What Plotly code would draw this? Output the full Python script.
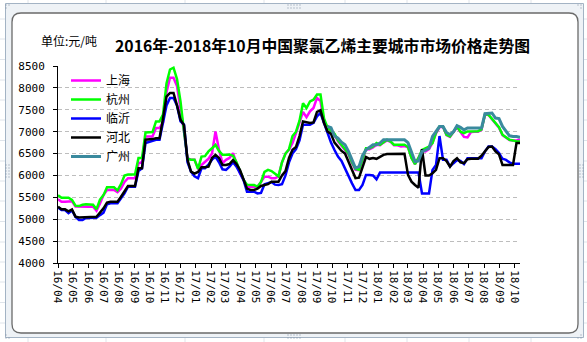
import pandas as pd
import plotly.graph_objects as go

# Weekly sampling dates, 2016-04-01 .. 2018-10-12
weeks = pd.date_range("2016-04-01", periods=133, freq="7D")

# Prices in yuan/ton
shanghai = [5454, 5400, 5400, 5400, 5410, 5290, 5285, 5285, 5285, 5285,
            5285, 5193, 5362, 5553, 5668, 5668, 5668, 5620, 5700, 5850,
            5936, 5936, 5936, 6280, 6300, 6890, 6890, 6890, 7083, 7083,
            7200, 7900, 8230, 8230, 8040, 7542, 7000, 6395, 6356, 6356,
            6165, 6240, 6300, 6380, 6500, 7005, 6585, 6280, 6356, 6400,
            6510, 6300, 6050, 5897, 5744, 5744, 5744, 5744, 5850, 5973,
            5973, 5936, 5936, 5980, 6300, 6500, 6585, 6740, 6968, 7198,
            7450, 7330, 7465, 7542, 7770, 7700, 7198, 7120, 7000, 6930,
            6780, 6680, 6580, 6480, 6280, 6130, 6120, 6380, 6600, 6600,
            6640, 6700, 6690, 6750, 6800, 6770, 6690, 6690, 6660, 6670,
            6640, 6400, 6260, 6400, 6560, 6550, 6600, 6740, 6960, 7100,
            7110, 6920, 6880, 6990, 7100, 6990, 6880, 6870, 6990, 7000,
            7000, 7040, 7390, 7380, 7290, 7200, 7090, 6920, 6870, 6810,
            6800, 6800, 6820]

hangzhou = [5550, 5490, 5490, 5490, 5440, 5310, 5300, 5330, 5340, 5340,
            5330, 5230, 5450, 5550, 5730, 5730, 5730, 5660, 5800, 6000,
            6020, 6020, 6020, 6400, 6400, 6980, 6980, 6990, 7235, 7235,
            7390, 8100, 8420, 8460, 8200, 7690, 7000, 6380, 6360, 6360,
            6150, 6430, 6440, 6550, 6620, 6700, 6560, 6470, 6470, 6480,
            6450, 6300, 6100, 5900, 5790, 5780, 5780, 5744, 5850, 6080,
            6126, 6100, 6050, 5980, 6300, 6500, 6600, 6900, 7000, 7250,
            7650, 7540, 7690, 7730, 7847, 7847, 7300, 7090, 7020, 6950,
            6800, 6700, 6600, 6500, 6300, 6150, 6130, 6400, 6620, 6620,
            6660, 6740, 6700, 6760, 6815, 6780, 6700, 6700, 6700, 6700,
            6650, 6400, 6260, 6400, 6585, 6630, 6660, 6740, 6980, 7120,
            7120, 6930, 6890, 7000, 7120, 7000, 6968, 7005, 7005, 7005,
            7010, 7050, 7400, 7390, 7300, 7210, 7100, 6930, 6880, 6815,
            6800, 6777, 6777]

linyi = [5270, 5209, 5209, 5140, 5200, 5050, 4980, 4980, 5030, 5033,
         5033, 5033, 5094, 5150, 5340, 5362, 5362, 5362, 5476, 5590,
         5744, 5744, 5744, 6100, 6165, 6740, 6760, 6780, 6815, 6815,
         7250, 7600, 7770, 7770, 7600, 7235, 7160, 6300, 6088, 5980,
         5936, 6165, 6165, 6250, 6360, 6432, 6300, 6140, 6126, 6200,
         6300, 6200, 6050, 5900, 5629, 5629, 5629, 5590, 5600, 5800,
         5820, 5850, 5790, 5782, 5800, 6000, 6300, 6500, 6600, 6800,
         7160, 7160, 7160, 7200, 7350, 7427, 7200, 6968, 6750, 6580,
         6430, 6330, 6150, 5973, 5820, 5668, 5668, 5782, 6012, 6012,
         6000, 5913, 6065, 6065, 6065, 6065, 6065, 6065, 6065, 6065,
         6065, 6065, 6065, 6065, 5590, 5590, 5590, 6126, 6240, 6900,
         6356, 6356, 6203, 6280, 6350, 6330, 6260, 6395, 6395, 6395,
         6395, 6395, 6550, 6662, 6662, 6600, 6510, 6380, 6356, 6300,
         6265, 6265, 6265]

hebei = [5285, 5225, 5225, 5180, 5225, 5060, 5041, 5041, 5041, 5055,
         5055, 5055, 5150, 5248, 5380, 5400, 5400, 5400, 5514, 5629,
         5760, 5760, 5760, 6165, 6165, 6815, 6815, 6830, 6850, 6850,
         7300, 7800, 7886, 7886, 7600, 7273, 7150, 6356, 6088, 6040,
         6080, 6188, 6188, 6200, 6400, 6470, 6400, 6240, 6240, 6260,
         6350, 6260, 6126, 5900, 5700, 5668, 5668, 5700, 5760, 5782,
         5800, 5858, 5858, 5858, 6000, 6100, 6400, 6585, 6650, 6900,
         7235, 7210, 7200, 7210, 7450, 7487, 7200, 7005, 6950, 6750,
         6660, 6560, 6500, 6300, 6100, 5940, 5950, 6200, 6420, 6380,
         6400, 6380, 6420, 6470, 6490, 6494, 6494, 6494, 6494, 6494,
         6012, 5858, 5782, 5720, 6600, 6000, 6000, 6050, 6126, 6395,
         6395, 6330, 6203, 6330, 6395, 6300, 6280, 6372, 6380, 6380,
         6380, 6450, 6547, 6650, 6660, 6550, 6480, 6240, 6240, 6240,
         6240, 6740, 6740]

# Guangzhou quotes begin in September 2017
guangzhou = [None] * 77 + [
    7120, 7090, 6900, 6850, 6760, 6700, 6550, 6350, 6170, 6200,
    6450, 6585, 6650, 6700, 6700, 6740, 6815, 6815, 6815, 6815,
    6815, 6815, 6815, 6750, 6550, 6317, 6330, 6547, 6580, 6620,
    6890, 7000, 7120, 7120, 6980, 6930, 7000, 7135, 7100, 7040,
    7083, 7083, 7083, 7083, 7083, 7410, 7427, 7427, 7312, 7300,
    7120, 7005, 6906, 6890, 6890, 6870]

series = [
    ("上海", shanghai, "#ff00ff", 2.5),
    ("杭州", hangzhou, "#00ff00", 2.5),
    ("临沂", linyi, "#0000ff", 2.5),
    ("河北", hebei, "#000000", 2.5),
    ("广州", guangzhou, "#3a8a9e", 3),
]

y_ticks = [4000, 4500, 5000, 5500, 6000, 6500, 7000, 7500, 8000, 8500]

W, H = 587, 342
L, R, T, B = 58, 67, 66, 79
PW, PH = W - L - R, H - T - B


def fx(p):
    return (p - L) / PW


def fy(p):
    return (H - B - p) / PH


fig = go.Figure()
for name, vals, color, width in series:
    fig.add_trace(go.Scatter(
        x=weeks, y=vals, name=name, mode="lines",
        line=dict(color=color, width=width),
        connectgaps=False,
    ))

shapes = []
# worksheet cell grid behind the chart
for gx in [28, 106, 185, 264, 345, 407, 469, 531]:
    shapes.append(dict(type="line", xref="paper", yref="paper", layer="below",
                       x0=fx(gx), x1=fx(gx), y0=fy(0), y1=fy(H),
                       line=dict(color="#dfe4ea", width=1)))
for gy in [19, 39, 59.5, 80, 100, 120, 140.5, 161, 181, 201, 221.5, 242, 262, 282, 302.5, 323]:
    shapes.append(dict(type="line", xref="paper", yref="paper", layer="below",
                       x0=fx(0), x1=fx(W), y0=fy(gy), y1=fy(gy),
                       line=dict(color="#dfe4ea", width=1)))

# selection frame around the chart object
shapes.append(dict(type="rect", xref="paper", yref="paper", layer="below",
                   x0=fx(5.5), x1=fx(583.5), y0=fy(3.5), y1=fy(337.5),
                   fillcolor="#eef2f6", line=dict(color="#a3b3c4", width=1)))


def rounded(x0, y0, x1, y1, r):
    pts = [
        f"M {fx(x0 + r)} {fy(y0)}",
        f"L {fx(x1 - r)} {fy(y0)}",
        f"Q {fx(x1)} {fy(y0)} {fx(x1)} {fy(y0 + r)}",
        f"L {fx(x1)} {fy(y1 - r)}",
        f"Q {fx(x1)} {fy(y1)} {fx(x1 - r)} {fy(y1)}",
        f"L {fx(x0 + r)} {fy(y1)}",
        f"Q {fx(x0)} {fy(y1)} {fx(x0)} {fy(y1 - r)}",
        f"L {fx(x0)} {fy(y0 + r)}",
        f"Q {fx(x0)} {fy(y0)} {fx(x0 + r)} {fy(y0)}",
        "Z",
    ]
    return " ".join(pts)


# chart area with rounded corners
shapes.append(dict(type="path", xref="paper", yref="paper", layer="below",
                   path=rounded(12, 13, 578, 333, 9),
                   fillcolor="#ffffff", line=dict(color="#6a6a6a", width=1.3)))

# sizing handles of the frame
handle_dots = []
for hx in [288, 291, 294, 297, 300]:
    handle_dots += [(hx, 5), (hx, 8), (hx, 335), (hx, 338)]
for hy in [165, 168, 171, 174, 177]:
    handle_dots += [(580, hy), (583, hy), (6, hy), (9, hy)]
for cx, cy in [(6, 5), (9, 5), (6, 8), (578, 5), (581, 5), (581, 8),
               (6, 335), (6, 338), (9, 338), (578, 338), (581, 338), (581, 335)]:
    handle_dots.append((cx, cy))
for hx, hy in handle_dots:
    shapes.append(dict(type="rect", xref="paper", yref="paper", layer="below",
                       x0=fx(hx - 0.5), x1=fx(hx + 0.5), y0=fy(hy - 0.5), y1=fy(hy + 0.5),
                       fillcolor="#7f8fa3", line=dict(width=0)))

annotations = [
    dict(text="<b>2016年-2018年10月中国聚氯乙烯主要城市市场价格走势图</b>",
         xref="paper", yref="paper", x=fx(322), y=fy(45),
         xanchor="center", yanchor="middle", showarrow=False,
         font=dict(family="Noto Sans CJK SC", size=15.8, color="#000000")),
    dict(text="单位:元/吨", xref="paper", yref="paper", x=fx(39), y=fy(40),
         xanchor="left", yanchor="middle", showarrow=False,
         font=dict(family="Noto Sans CJK SC", size=12, color="#000000")),
]

tick_font = dict(family="DejaVu Sans Mono", size=11, color="#000000")

fig.update_layout(
    width=W, height=H, autosize=False,
    margin=dict(l=L, r=R, t=T, b=B, pad=0),
    paper_bgcolor="#ffffff", plot_bgcolor="rgba(0,0,0,0)",
    shapes=shapes, annotations=annotations,
    showlegend=True,
    legend=dict(x=fx(66), y=fy(66), xanchor="left", yanchor="top",
                bgcolor="rgba(0,0,0,0)", borderwidth=0,
                font=dict(family="Noto Sans CJK SC", size=12, color="#000000"),
                itemwidth=30, tracegroupgap=0),
    xaxis=dict(
        type="date", range=["2016-04-01", "2018-10-12"],
        tick0="2016-04-01", dtick="M1", tickformat="%y/%m",
        tickangle=90, ticks="outside", ticklen=4, tickcolor="#000000",
        showline=True, linecolor="#000000", linewidth=1,
        showgrid=False, zeroline=False, tickfont=tick_font,
    ),
    yaxis=dict(
        range=[4000, 8500], tickvals=y_ticks,
        ticktext=[str(v) for v in y_ticks],
        ticks="outside", ticklen=4, tickcolor="#000000",
        showline=True, linecolor="#000000", linewidth=1,
        showgrid=True, gridcolor="#bdbdbd", gridwidth=1, griddash="4px,3px",
        zeroline=False, tickfont=tick_font, ticklabelstandoff=6,
    ),
)

fig.write_html("out.html", config={"displayModeBar": False})
